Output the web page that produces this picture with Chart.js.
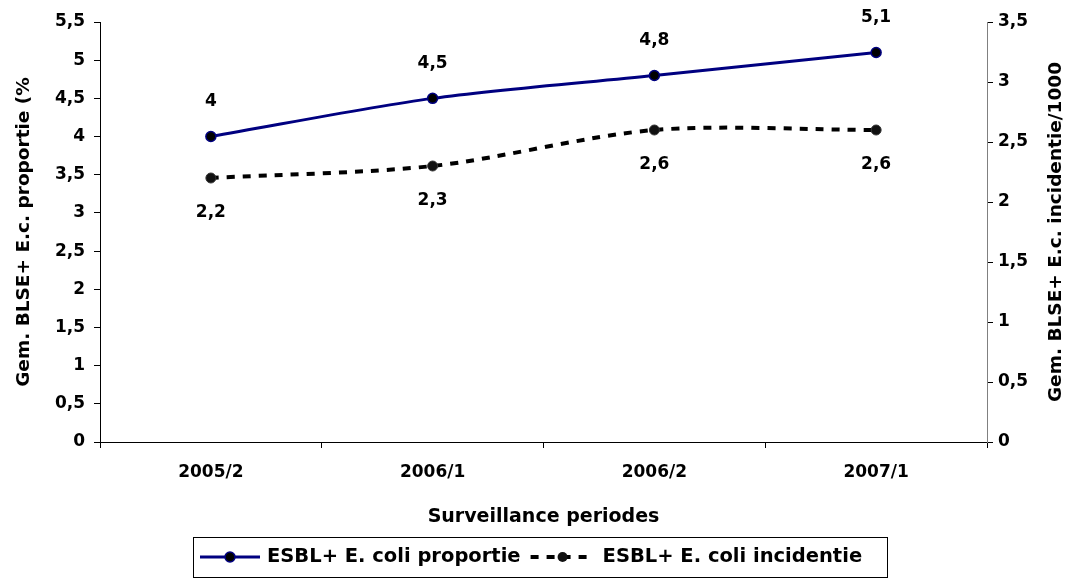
<!DOCTYPE html>
<html>
<head>
<meta charset="utf-8">
<script src="https://cdn.jsdelivr.net/npm/chart.js@4.4.1/dist/chart.umd.min.js"></script>
<style>
    html, body { margin: 0; padding: 0; background: #fff; }
    #wrap { position: relative; width: 1070px; height: 587px; }
</style>
</head>
<body>
<div id="wrap"><canvas id="chart" width="1070" height="587"></canvas></div>
<script>
// Data
const periods = ['2005/2', '2006/1', '2006/2', '2007/1'];
const proportie = [4, 4.5, 4.8, 5.1];
const incidentie = [2.2, 2.3, 2.6, 2.6];
const seriesNames = ['ESBL+ E. coli proportie', 'ESBL+ E. coli incidentie'];
const leftTitle = 'Gem. BLSE+ E.c. proportie (%';
const rightTitle = 'Gem. BLSE+ E.c. incidentie/1000';
const xTitle = 'Surveillance periodes';

const WIDE = 'DejaVu Sans, Verdana, sans-serif';
const NAVY = '#000080';

function comma(v) {
    return String(v).replace('.', ',');
}

// Data labels above (proportie) / below (incidentie)
const labelPlugin = {
    id: 'labels',
    afterDatasetsDraw(chart) {
        const ctx = chart.ctx;
        ctx.save();
        ctx.font = 'bold 17px ' + WIDE;
        ctx.fillStyle = '#000';
        ctx.textAlign = 'center';
        ctx.textBaseline = 'middle';
        chart.data.datasets.forEach((ds, i) => {
            const meta = chart.getDatasetMeta(i);
            meta.data.forEach((pt, j) => {
                const dy = i === 0 ? -35 : 35;
                ctx.fillText(comma(ds.data[j]), pt.x, pt.y + dy);
            });
        });
        ctx.restore();
    }
};

// Right axis title, reading bottom to top like the left one
const rightTitlePlugin = {
    id: 'rightTitle',
    afterDraw(chart) {
        const ctx = chart.ctx;
        const area = chart.chartArea;
        ctx.save();
        ctx.translate(1056, (area.top + area.bottom) / 2);
        ctx.rotate(-Math.PI / 2);
        ctx.font = 'bold 18.5px ' + WIDE;
        ctx.fillStyle = '#000';
        ctx.textAlign = 'center';
        ctx.textBaseline = 'middle';
        ctx.fillText(rightTitle, 0, 0);
        ctx.restore();
    }
};

// Boxed legend at the bottom
const legendPlugin = {
    id: 'boxLegend',
    afterDraw(chart) {
        const ctx = chart.ctx;
        const ds = chart.data.datasets;
        ctx.save();
        ctx.strokeStyle = '#000';
        ctx.lineWidth = 1;
        ctx.strokeRect(193.5, 537.5, 694, 40);
        const cy = 557;
        ctx.font = 'bold 19.5px ' + WIDE;
        const w1 = ctx.measureText(ds[0].label).width;

        // proportie
        ctx.strokeStyle = NAVY;
        ctx.lineWidth = 3;
        ctx.beginPath(); ctx.moveTo(200, cy); ctx.lineTo(260, cy); ctx.stroke();
        ctx.beginPath(); ctx.arc(230, cy, 5, 0, Math.PI * 2);
        ctx.fillStyle = '#000'; ctx.fill();
        ctx.lineWidth = 1.5; ctx.stroke();

        // incidentie
        const s2 = 267 + w1 + 10;
        ctx.strokeStyle = '#000';
        ctx.lineWidth = 4;
        ctx.setLineDash([8, 8]);
        ctx.beginPath(); ctx.moveTo(s2, cy); ctx.lineTo(s2 + 64, cy); ctx.stroke();
        ctx.setLineDash([]);
        ctx.beginPath(); ctx.arc(s2 + 32, cy, 5, 0, Math.PI * 2);
        ctx.fillStyle = '#111'; ctx.fill();

        ctx.fillStyle = '#000';
        ctx.textBaseline = 'middle';
        ctx.textAlign = 'left';
        ctx.fillText(ds[0].label, 267, cy);
        ctx.fillText(ds[1].label, s2 + 72, cy);
        ctx.restore();
    }
};

const tickFont = { family: WIDE, size: 17, weight: 'bold' };
const titleFont = { family: WIDE, size: 18.5, weight: 'bold' };

new Chart(document.getElementById('chart'), {
    type: 'line',
    data: {
        labels: periods,
        datasets: [{
            label: seriesNames[0],
            data: proportie,
            yAxisID: 'y',
            borderColor: NAVY,
            borderWidth: 3,
            pointBackgroundColor: '#000',
            pointBorderColor: NAVY,
            pointBorderWidth: 1.5,
            pointRadius: 5,
            tension: 0.3
        }, {
            label: seriesNames[1],
            data: incidentie,
            yAxisID: 'y1',
            borderColor: '#000',
            borderWidth: 4,
            borderDash: [8, 8],
            pointBackgroundColor: '#111',
            pointBorderColor: '#333',
            pointBorderWidth: 1,
            pointRadius: 5,
            tension: 0.3
        }]
    },
    options: {
        responsive: false,
        animation: false,
        layout: { padding: { top: 22, left: 0, right: 0, bottom: 0 } },
        plugins: {
            legend: { display: false },
            tooltip: { enabled: false }
        },
        scales: {
            x: {
                offset: true,
                grid: {
                    offset: true,
                    drawOnChartArea: false,
                    drawTicks: true,
                    tickLength: 6,
                    color: '#000'
                },
                border: { color: '#000', width: 1 },
                ticks: { font: tickFont, color: '#000', padding: 14 },
                title: {
                    display: true, text: xTitle,
                    font: { family: WIDE, size: 19, weight: 'bold' }, color: '#000',
                    padding: { top: 0, bottom: 59 }
                },
                afterFit(scale) { scale.height = 145; }
            },
            y: {
                position: 'left',
                min: 0, max: 5.5,
                grid: { drawOnChartArea: false, tickLength: 6, color: '#000' },
                border: { color: '#000', width: 1 },
                ticks: {
                    stepSize: 0.5, font: tickFont, color: '#000', padding: 9,
                    callback: v => comma(v)
                },
                title: {
                    display: true, text: leftTitle, font: titleFont, color: '#000',
                    padding: { top: 13, bottom: 0 }
                },
                afterFit(scale) { scale.width = 100; }
            },
            y1: {
                position: 'right',
                min: 0, max: 3.5,
                grid: { drawOnChartArea: false, tickLength: 6, color: '#000' },
                border: { color: '#808080', width: 1 },
                ticks: {
                    stepSize: 0.5, font: tickFont, color: '#000', padding: 5,
                    callback: v => comma(v)
                },
                afterFit(scale) { scale.width = 83; }
            }
        }
    },
    plugins: [labelPlugin, rightTitlePlugin, legendPlugin]
});
</script>
</body>
</html>
